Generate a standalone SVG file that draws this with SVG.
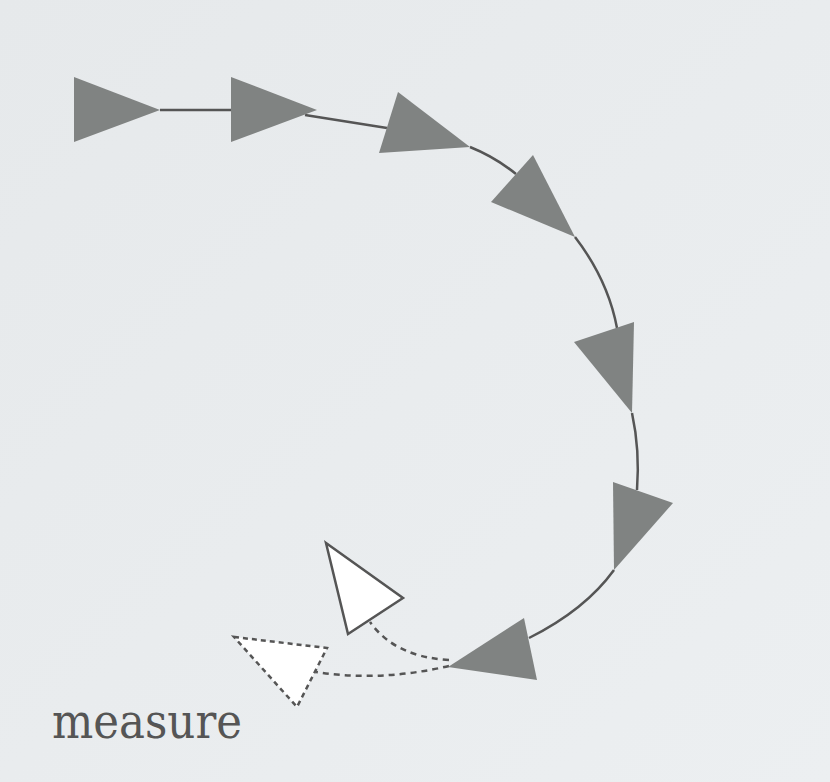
<svg xmlns="http://www.w3.org/2000/svg" width="830" height="782" viewBox="0 0 830 782">
<defs>
<linearGradient id="bg" x1="0" y1="0" x2="1" y2="1">
<stop offset="0" stop-color="#e6e9eb"/>
<stop offset="1" stop-color="#eceff1"/>
</linearGradient>
</defs>
<style>
.tri{fill:#808382;stroke:none}
.w1{fill:#ffffff;stroke:#555;stroke-width:2.5;stroke-linejoin:miter}
.w2{fill:#ffffff;stroke:#555;stroke-width:2.5;stroke-dasharray:5 4}
.ln{fill:none;stroke:#555;stroke-width:2.5}
.dl{fill:none;stroke:#555;stroke-width:2.5;stroke-dasharray:6 5}
.lbl{font-family:"DejaVu Serif","Liberation Serif",serif;font-size:48px;fill:#555}
</style>
<rect width="830" height="782" fill="url(#bg)"/>
<g id="connectors">
<path class="ln" d="M160,110 L231,110"/>
<path class="ln" d="M305,115 L387,128"/>
<path class="ln" d="M470,147 Q495,157 516,174"/>
<path class="ln" d="M575,237 Q608,280 617,328"/>
<path class="ln" d="M632,413 Q640,450 637,490"/>
<path class="ln" d="M614,570 Q585,610 529,638"/>
<path class="dl" d="M449,660 Q395,657 370,622"/>
<path class="dl" d="M449,666 Q380,682 316,672"/>
</g>
<g id="n1"><polygon class="tri" points="74,77 74,142 160,110"/></g>
<g id="n2"><polygon class="tri" points="231,77 231,142 317,110"/></g>
<g id="n3"><polygon class="tri" points="398,92 379,153 470,147"/></g>
<g id="n4"><polygon class="tri" points="533,155 491,202 575,237"/></g>
<g id="n5"><polygon class="tri" points="634,322 574,342 632,413"/></g>
<g id="n6"><polygon class="tri" points="613,482 673,503 614,570"/></g>
<g id="n7"><polygon class="tri" points="524,618 537,680 448,667"/></g>
<g id="w1"><polygon class="w1" points="326,543 403,598 348,634"/></g>
<g id="w2"><polygon class="w2" points="234,637 327,648 297,707"/></g>
<text class="lbl" x="52" y="738" textLength="190" lengthAdjust="spacingAndGlyphs">measure</text>
</svg>
